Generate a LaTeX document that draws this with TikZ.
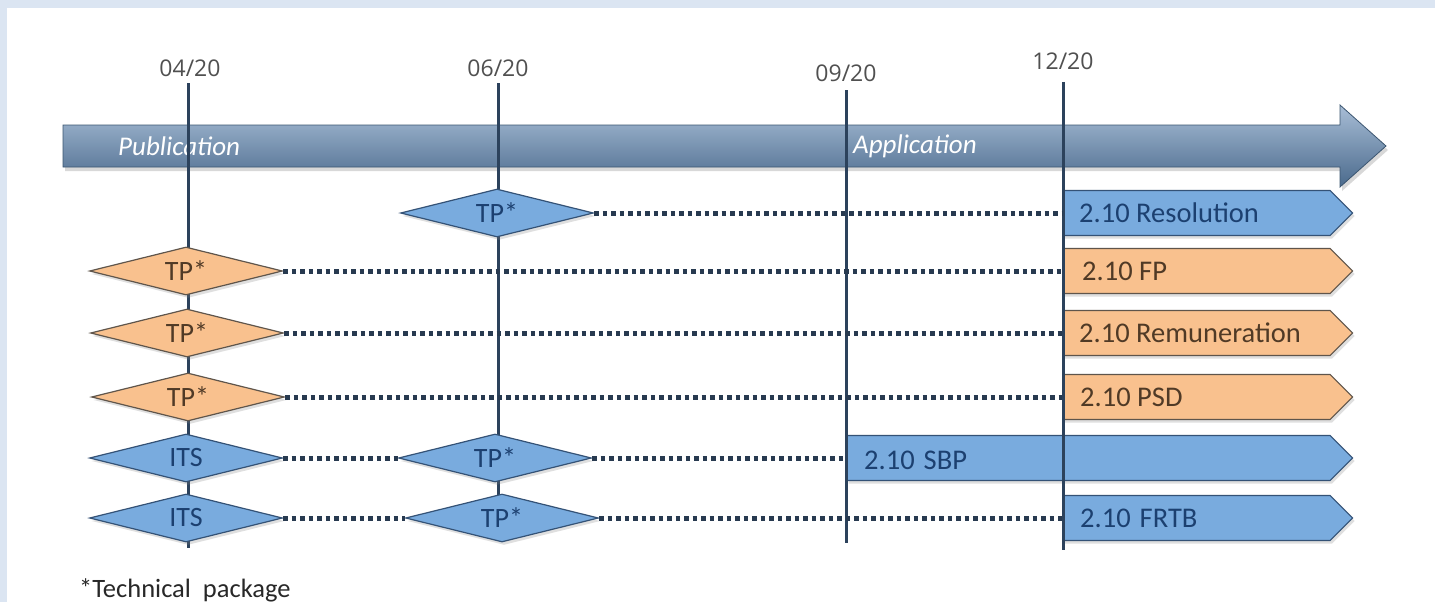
\documentclass[tikz,border=0pt]{standalone}
\usepackage{fontspec}
\setmainfont{Carlito}
\newfontfamily\datefont{Open Sans}
\usetikzlibrary{shapes.geometric,shapes.symbols,shadows}
\definecolor{framebg}{RGB}{219,229,242}
\definecolor{bfill}{RGB}{121,171,222}
\definecolor{bdraw}{RGB}{52,82,118}
\definecolor{btext}{RGB}{28,64,112}
\definecolor{ofill}{RGB}{249,193,142}
\definecolor{odraw}{RGB}{95,85,75}
\definecolor{otext}{RGB}{80,58,38}
\definecolor{vline}{RGB}{44,66,92}
\definecolor{dotc}{RGB}{40,58,80}
\definecolor{bantop}{RGB}{168,189,214}
\definecolor{banbot}{RGB}{74,106,140}
\definecolor{datec}{RGB}{80,80,80}
\begin{document}
\begin{tikzpicture}[x=1pt,y=-1pt,
  shad/.style={drop shadow={opacity=0.25,shadow xshift=2pt,shadow yshift=-3pt}},
  dia/.style={diamond,aspect=4,minimum width=193pt,minimum height=48pt,inner sep=0pt,
    line width=1.2pt,shad,font=\fontsize{28}{30}\selectfont},
  bdia/.style={dia,fill=bfill,draw=bdraw,text=btext},
  odia/.style={dia,fill=ofill,draw=odraw,text=otext},
  rbox/.style={signal,signal to=east,signal pointer angle=90,minimum height=45pt,
    inner sep=0pt,line width=1.2pt,shad,anchor=west},
  brbox/.style={rbox,fill=bfill,draw=bdraw},
  orbox/.style={rbox,fill=ofill,draw=odraw},
  rlab/.style={anchor=west,font=\fontsize{28.5}{30}\selectfont,inner sep=0pt},
  vl/.style={draw=vline,line width=3pt},
  dl/.style={draw=dotc,line width=5pt,dash pattern=on 4.5pt off 4pt},
  date/.style={font=\datefont\fontsize{23}{26}\selectfont,text=datec,inner sep=0pt},
  bantext/.style={font=\itshape\fontsize{27}{30}\selectfont,text=white,inner sep=0pt,anchor=west}
]
% frame
\fill[framebg] (0,0) rectangle (1435,602);
\fill[white] (7,8) rectangle (1435,602);
\useasboundingbox (0,0) rectangle (1435,602);

% banner
\path[top color=bantop,bottom color=banbot,draw=banbot!80!black,line width=0.8pt,
  drop shadow={opacity=0.3,shadow xshift=2pt,shadow yshift=-4pt}]
  (63,125) -- (1340,125) -- (1340,105) -- (1386,146) -- (1340,187) -- (1340,167) -- (63,167) -- cycle;
\node[bantext] (pub) at (118,146) {Publication};
\node[bantext] (app) at (853,146) {Application};

% right boxes
\node[brbox,minimum width=290pt] (r1) at (1062,213) {};
\node[orbox,minimum width=290pt] (r2) at (1062,271) {};
\node[orbox,minimum width=290pt] (r3) at (1062,333) {};
\node[orbox,minimum width=290pt] (r4) at (1062,397) {};
\node[brbox,minimum width=506pt] (r5) at (846,458) {};
\node[brbox,minimum width=290pt] (r6) at (1062,518) {};

% date labels and vertical lines
\node[date] (d04) at (190,68) {04/20};
\node[date] (d06) at (498,68) {06/20};
\node[date] (d09) at (846,73) {09/20};
\node[date] (d12) at (1063,61) {12/20};
\coordinate (t04) at (188,83);  \coordinate (b04) at (188,548);
\coordinate (t06) at (498,83);  \coordinate (b06) at (498,541);
\coordinate (t09) at (846,90);  \coordinate (b09) at (846,543);
\coordinate (t12) at (1063,82); \coordinate (b12) at (1063,550);
\draw[vl] (t04) -- (b04);
\draw[vl] (t06) -- (b06);
\draw[vl] (t09) -- (b09);
\draw[vl] (t12) -- (b12);

% diamonds
\node[bdia] (a1) at (497,213) {TP*};
\node[odia] (a2) at (186,271) {TP*};
\node[odia] (a3) at (187,333) {TP*};
\node[odia] (a4) at (188,397) {TP*};
\node[bdia] (a5) at (186,458) {ITS};
\node[bdia] (b5) at (495,458) {TP*};
\node[bdia] (a6) at (186,518) {ITS};
\node[bdia] (b6) at (502,518) {TP*};

% dotted connectors
\draw[dl] (a1.east) -- (r1.west);
\draw[dl] (a2.east) -- (r2.west);
\draw[dl] (a3.east) -- (r3.west);
\draw[dl] (a4.east) -- (r4.west);
\draw[dl] (a5.east) -- (b5.west);
\draw[dl] (b5.east) -- (r5.west);
\draw[dl] (a6.east) -- (b6.west);
\draw[dl] (b6.east) -- (r6.west);

% box labels
\node[rlab,text=btext] (l1) at (1079,213) {2.10 Resolution};
\node[rlab,text=otext] (l2) at (1082,271) {2.10 FP};
\node[rlab,text=otext] (l3) at (1079,333) {2.10 Remuneration};
\node[rlab,text=otext] (l4) at (1080,397) {2.10 PSD};
\node[rlab,text=btext] (l5) at (864,460) {2.10\hspace{9pt}SBP};
\node[rlab,text=btext] (l6) at (1080,518) {2.10\hspace{9pt}FRTB};

% footnote
\node[anchor=west,inner sep=0pt,font=\fontsize{26.5}{28}\selectfont,text={rgb,255:red,40;green,40;blue,40}] (fn) at (79,590) {*Technical\hspace{12pt}package};
\end{tikzpicture}
\end{document}
